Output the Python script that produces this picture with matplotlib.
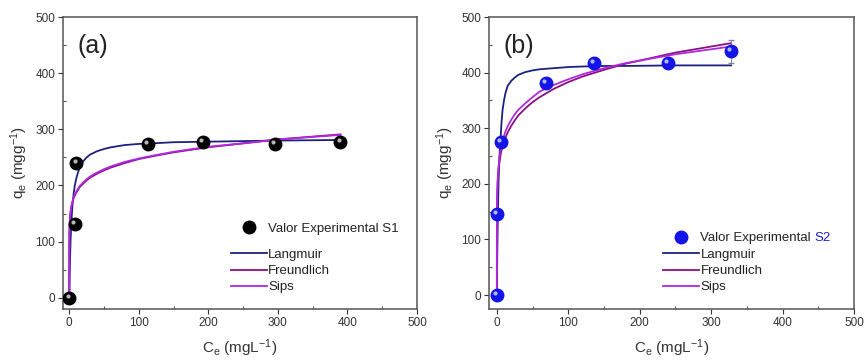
import matplotlib
matplotlib.use("Agg")
import matplotlib.pyplot as plt
import matplotlib.transforms as mtransforms
from matplotlib.ticker import MultipleLocator

plt.rcParams['font.family'] = ['Liberation Sans', 'DejaVu Sans']
plt.rcParams['mathtext.default'] = 'regular'

# experimental points
ce_s1 = [0, 7.6, 10, 113, 192, 296, 390]
qe_s1 = [0, 132, 240, 273, 277, 273, 277]
err_s1 = [2, 8, 4, 3, 3, 3, 3]

ce_s2 = [0, 0, 5.6, 69, 136, 239, 328]
qe_s2 = [0, 146, 275, 382, 417, 417, 438]
err_s2 = [2, 4, 6, 5, 10, 5, 20]

# fitted curves
c_fit_s1 = [0, 0.01, 0.05, 0.2, 0.5, 1, 2, 3, 4, 5, 6.5, 8, 10, 12, 15, 20, 25, 30,
            40, 50, 60, 80, 100, 120, 150, 200, 250, 300, 390]
lang_s1 = [0, 1, 4, 15, 37, 65, 106, 134, 154, 170, 187, 200, 212, 221, 232, 243, 250, 255,
           261, 265, 268, 272, 274, 275, 277, 278, 279, 280, 281]
freu_s1 = [0, 82, 99, 117, 131, 142, 154, 162, 168, 172, 178, 182, 187, 191, 197, 203, 209, 214,
           221, 227, 232, 240, 247, 252, 259, 268, 275, 282, 291]
sips_s1 = [0, 70, 90, 112, 128, 140, 153, 162, 168, 173, 179, 184, 189, 193, 199, 205, 211, 216,
           223, 229, 234, 242, 248, 253, 260, 269, 275, 282, 290]

c_fit_s2 = [0, 0.05, 0.2, 0.5, 1, 1.5, 2, 2.5, 3.5, 4.5, 5.5, 6.5, 8, 10, 12, 15, 20, 25, 30,
            40, 50, 60, 80, 100, 120, 150, 180, 250, 328]
lang_s2 = [0, 8, 30, 65, 112, 148, 180, 210, 245, 270, 288, 310, 333, 350, 363, 376, 385, 391, 396,
           401, 404, 406, 408, 410, 411, 412, 412, 413, 413]
freu_s2 = [0, 130, 158, 180, 199, 211, 220, 227, 238, 246, 254, 260, 267, 276, 283, 292, 304, 314, 323,
           336, 347, 356, 371, 383, 393, 405, 416, 436, 453]
sips_s2 = [0, 110, 150, 180, 202, 215, 226, 233, 246, 255, 263, 269, 278, 286, 294, 303, 315, 325, 333,
           345, 356, 366, 378, 388, 397, 408, 417, 433, 447]

c_lang = '#1c2180'
c_freu = '#8a1080'
c_sips = '#b028e0'

fig = plt.figure(figsize=(8.65, 3.6), dpi=100)
ax1 = fig.add_axes([63/865, 51/360, 354/865, 292/360])
ax2 = fig.add_axes([489/865, 51/360, 365/865, 292/360])


def draw_panel(ax, ce, qe, err, cfit, lang, freu, sips, ball, shine, label):
    ax.plot(cfit, lang, color=c_lang, lw=1.3, label='Langmuir', zorder=3)
    ax.plot(cfit, freu, color=c_freu, lw=1.3, label='Freundlich', zorder=3)
    ax.plot(cfit, sips, color=c_sips, lw=1.3, label='Sips', zorder=3)
    ax.errorbar(ce, qe, yerr=err, fmt='none', ecolor='#8080a0', elinewidth=0.7,
                capsize=2, zorder=4)
    ax.plot(ce, qe, 'o', color=ball, ms=9, mec=ball, zorder=5)
    off = mtransforms.offset_copy(ax.transData, fig=fig, x=-1.2, y=1.5, units='points')
    ax.plot(ce, qe, 'o', color=shine, ms=3, mec='none', alpha=0.85,
            transform=off, zorder=6)
    # legend handle for the balls
    ax.plot([], [], 'o', color=ball, ms=9, label=label)


draw_panel(ax1, ce_s1, qe_s1, err_s1, c_fit_s1, lang_s1, freu_s1, sips_s1,
           'black', '#d8d8d8', 'Valor Experimental S1')
draw_panel(ax2, ce_s2, qe_s2, err_s2, c_fit_s2, lang_s2, freu_s2, sips_s2,
           '#1414e6', '#c8d8ff', 'Valor Experimental')

for ax, xmin, ymin, tag in [(ax1, -9, -20, '(a)'), (ax2, -11, -25, '(b)')]:
    ax.set_xlim(xmin, 500)
    ax.set_ylim(ymin, 500)
    ax.xaxis.set_major_locator(MultipleLocator(100))
    ax.yaxis.set_major_locator(MultipleLocator(100))
    ax.xaxis.set_minor_locator(MultipleLocator(50))
    ax.yaxis.set_minor_locator(MultipleLocator(50))
    ax.tick_params(which='major', direction='out', length=3.5, width=0.8,
                   labelsize=8.5, colors='#333333', pad=2)
    ax.tick_params(which='minor', direction='in', length=2.5, width=0.8, colors='#555555')
    for sp in ax.spines.values():
        sp.set_color('#555555')
        sp.set_linewidth(1.1)
    ax.set_xlabel('C$_e$ (mgL$^{-1}$)', fontsize=11, color='#333333', labelpad=6)
    ax.set_ylabel('q$_e$ (mgg$^{-1}$)', fontsize=11, color='#333333', labelpad=4)
    ax.text(0.04, 0.9, tag, transform=ax.transAxes, fontsize=18, color='#222222',
            va='center', ha='left')

# two legends per panel: the points on top, the three fits below
leg_kw = dict(frameon=False, fontsize=9.5, handlelength=2.7, handletextpad=0.1,
              labelspacing=0.3, borderpad=0, borderaxespad=0)
pt_legends = []
for ax, x0, y_pts in [(ax1, 0.475, 0.274), (ax2, 0.478, 0.243)]:
    h, l = ax.get_legend_handles_labels()
    leg_pts = ax.legend([h[3]], [l[3]], loc='center left', bbox_to_anchor=(x0, y_pts), **leg_kw)
    ax.add_artist(leg_pts)
    leg_fit = ax.legend(h[:3], l[:3], loc='center left', bbox_to_anchor=(x0, 0.130), **leg_kw)
    for t in leg_pts.get_texts() + leg_fit.get_texts():
        t.set_color('#222222')
    pt_legends.append(leg_pts)

fig.canvas.draw()
ax2.annotate('S2', xy=(1, 0), xycoords=pt_legends[1].get_texts()[0], xytext=(2.5, 0),
             textcoords='offset points', fontsize=9.5, color='#2020d0',
             va='bottom', ha='left')

fig.savefig('out.png', dpi=100)
